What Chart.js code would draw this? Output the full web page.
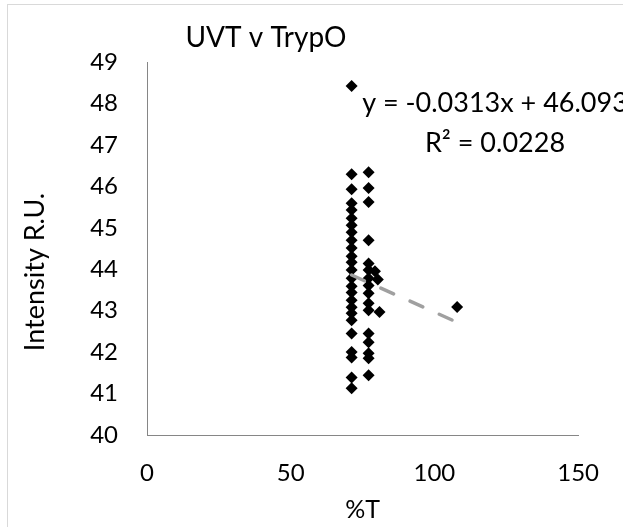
<!DOCTYPE html>
<html><head><meta charset="utf-8">
<script src="https://cdn.jsdelivr.net/npm/chart.js@4/dist/chart.umd.min.js"></script>
<style>
html,body{margin:0;padding:0;background:#fff;}
#wrap{position:relative;width:623px;height:527px;overflow:hidden;}
#frame{position:absolute;left:7px;top:4px;width:660px;height:560px;border:1px solid #d9d9d9;box-sizing:border-box;}
canvas{position:absolute;left:0;top:0;}
</style></head><body>
<div id="wrap"><div id="frame"></div><canvas id="c" width="623" height="527"></canvas></div>
<script>
// ---- data ----
const chartTitle = "UVT v TrypO";
const xAxisTitle = "%T";
const yAxisTitle = "Intensity R.U.";
const xTicks = [0, 50, 100, 150];
const yTicks = [40, 41, 42, 43, 44, 45, 46, 47, 48, 49];

// column of samples at %T ≈ 71.2
const colAx = 71.2;
const colAy = [48.42, 46.29, 45.93, 45.59, 45.43, 45.23, 45.06, 44.89, 44.70, 44.51, 44.31, 44.17,
               43.98, 43.78, 43.59, 43.44, 43.25, 43.08, 42.94, 42.77, 42.45, 42.00, 41.87, 41.39, 41.13];
// column of samples at %T ≈ 77.1
const colBx = 77.1;
const colBy = [46.34, 45.96, 45.62, 44.70, 44.14, 43.98, 43.78, 43.61, 43.42, 43.18, 43.01,
               42.45, 42.24, 41.97, 41.85, 41.44];
// remaining scattered samples
const otherX = [79.3, 80.3, 80.9, 107.9];
const otherY = [43.95, 43.75, 42.97, 43.09];

// linear trendline (as displayed) endpoints
const trendX = [71.2, 107.9];
const trendY = [43.86, 42.72];
const trendLabel = ["y = -0.0313x + 46.093", "R\u00B2 = 0.0228"];

// ---- build datasets ----
const pts = [];
colAy.forEach(v => pts.push({x: colAx, y: v}));
colBy.forEach(v => pts.push({x: colBx, y: v}));
otherX.forEach((v, i) => pts.push({x: v, y: otherY[i]}));
const trend = trendX.map((v, i) => ({x: v, y: trendY[i]}));

const FONT = "Lato";

const extras = {
  id: 'extras',
  afterDraw(chart) {
    const ctx = chart.ctx;
    ctx.save();
    ctx.fillStyle = '#000';
    ctx.textAlign = 'center';
    ctx.textBaseline = 'middle';
    ctx.font = `28px ${FONT}`;
    ctx.fillText(chartTitle, 266, 38);
    ctx.font = `27px ${FONT}`;
    ctx.fillText(trendLabel[0], 495, 103);
    ctx.fillText(trendLabel[1], 495, 143);
    ctx.translate(35, 272);
    ctx.rotate(-Math.PI / 2);
    ctx.font = `27px ${FONT}`;
    ctx.fillText(yAxisTitle, 0, 0);
    ctx.restore();
  }
};

new Chart(document.getElementById('c'), {
  type: 'scatter',
  data: {
    datasets: [
      {
        type: 'line', data: trend, borderColor: '#a0a0a0', borderWidth: 3.5,
        borderDash: [14, 18], borderCapStyle: 'round', pointRadius: 0, fill: false, showLine: true
      },
      {
        data: pts, pointStyle: 'rectRot', radius: 6, backgroundColor: '#000',
        borderColor: '#000', borderWidth: 0
      }
    ]
  },
  options: {
    responsive: false, animation: false, devicePixelRatio: 1,
    layout: {padding: {left: 0, top: 62, right: 40, bottom: 0}},
    plugins: {legend: {display: false}, tooltip: {enabled: false}, title: {display: false}},
    scales: {
      x: {
        type: 'linear', min: 0, max: 150,
        afterBuildTicks: s => { s.ticks = xTicks.map(v => ({value: v})); },
        afterFit: s => { s.height = 92; },
        grid: {display: false, drawTicks: false},
        border: {display: true, color: '#868686', width: 1},
        ticks: {color: '#000', font: {family: FONT, size: 24}, padding: 24, maxRotation: 0},
        title: {display: true, text: xAxisTitle, color: '#000', font: {family: FONT, size: 25}, padding: {top: 0, bottom: 2}}
      },
      y: {
        type: 'linear', min: 40, max: 49,
        afterBuildTicks: s => { s.ticks = yTicks.map(v => ({value: v})); },
        afterFit: s => { s.width = 147; },
        grid: {display: false, drawTicks: false},
        border: {display: true, color: '#868686', width: 1},
        ticks: {color: '#000', font: {family: FONT, size: 24}, padding: 29}
      }
    }
  },
  plugins: [extras]
});
</script>
</body></html>
